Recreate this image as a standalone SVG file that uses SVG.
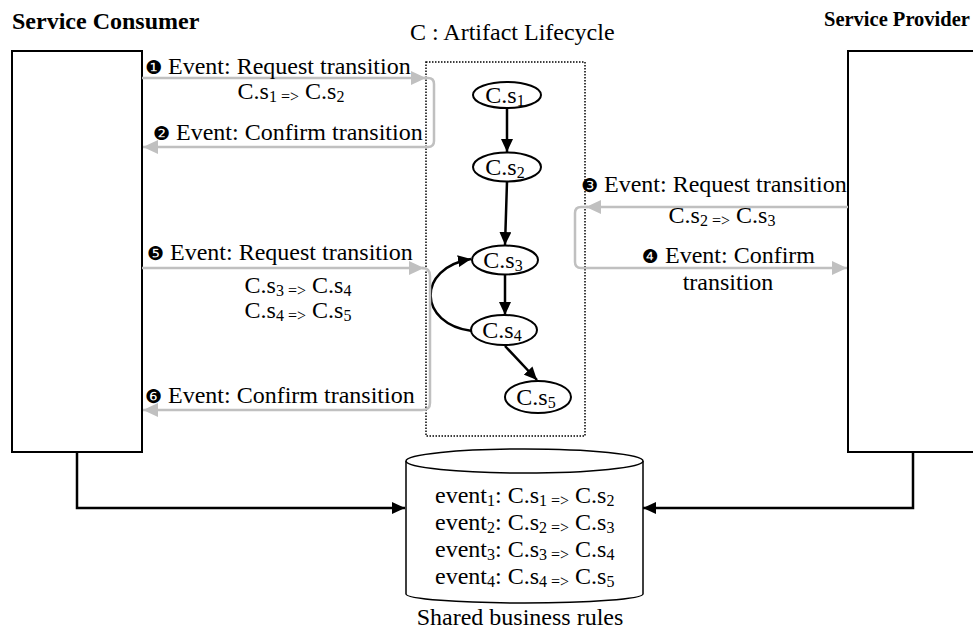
<svg xmlns="http://www.w3.org/2000/svg" width="973" height="631" viewBox="0 0 973 631">
<style>
text{font-family:"Liberation Serif","Times New Roman",serif;font-size:24px;fill:#000}
.b{font-weight:bold}
.n{font-family:"DejaVu Sans",sans-serif;font-size:19px}
.s{font-size:16px}
.box{fill:#fff;stroke:#000;stroke-width:2}
.st{fill:#fff;stroke:#000;stroke-width:2}
.blk{fill:none;stroke:#000;stroke-width:2.5}
.gry{fill:none;stroke:#c0c0c0;stroke-width:2.5}
</style>
<defs>
<marker id="ab" markerUnits="userSpaceOnUse" markerWidth="14" markerHeight="12" refX="13" refY="6" orient="auto"><path d="M0,0 L13,6 L0,12 z" fill="#000"/></marker>
<marker id="ag" markerUnits="userSpaceOnUse" markerWidth="16" markerHeight="14" refX="15" refY="7" orient="auto"><path d="M0,0 L15,7 L0,14 z" fill="#c0c0c0"/></marker>
</defs>
<rect width="973" height="631" fill="#fff"/>

<g id="consumer">
<text class="b" x="12" y="29">Service Consumer</text>
<rect class="box" x="12" y="51" width="130" height="401"/>
</g>
<g id="provider">
<text class="b" x="824" y="26" style="font-size:20.5px">Service Provider</text>
<rect class="box" x="848" y="51" width="140" height="401"/>
</g>

<g id="lifecycle">
<text x="410" y="40">C : Artifact Lifecycle</text>
<rect x="426" y="62" width="159" height="374" fill="none" stroke="#000" stroke-width="1.5" stroke-dasharray="1.5 1.5"/>
</g>
<g id="s1"><ellipse class="st" cx="507" cy="95" rx="34" ry="13"/><text x="505" y="103" text-anchor="middle">C.s<tspan class="s" dy="3">1</tspan></text></g>
<g id="s2"><ellipse class="st" cx="507" cy="167" rx="34" ry="14.5"/><text x="505" y="175" text-anchor="middle">C.s<tspan class="s" dy="3">2</tspan></text></g>
<g id="s3"><ellipse class="st" cx="505" cy="260" rx="33" ry="14.5"/><text x="503" y="268" text-anchor="middle">C.s<tspan class="s" dy="3">3</tspan></text></g>
<g id="s4"><ellipse class="st" cx="504" cy="330" rx="33" ry="15"/><text x="502" y="338" text-anchor="middle">C.s<tspan class="s" dy="3">4</tspan></text></g>
<g id="s5"><ellipse class="st" cx="538" cy="397" rx="33" ry="16"/><text x="536" y="405" text-anchor="middle">C.s<tspan class="s" dy="3">5</tspan></text></g>

<g id="rules">
<path d="M406,461 V594 A118.5,9 0 0 0 643,594 V461" fill="#fff" stroke="#000" stroke-width="1.5"/>
<ellipse cx="524.5" cy="461" rx="118.5" ry="12" fill="#fff" stroke="#000" stroke-width="1.5"/>
<text x="435" y="503">event<tspan class="s" dy="3">1</tspan><tspan dy="-3">: C.s</tspan><tspan class="s" dy="3">1 =&gt;</tspan><tspan dy="-3"> C.s</tspan><tspan class="s" dy="3">2</tspan></text>
<text x="435" y="530">event<tspan class="s" dy="3">2</tspan><tspan dy="-3">: C.s</tspan><tspan class="s" dy="3">2 =&gt;</tspan><tspan dy="-3"> C.s</tspan><tspan class="s" dy="3">3</tspan></text>
<text x="435" y="557">event<tspan class="s" dy="3">3</tspan><tspan dy="-3">: C.s</tspan><tspan class="s" dy="3">3 =&gt;</tspan><tspan dy="-3"> C.s</tspan><tspan class="s" dy="3">4</tspan></text>
<text x="435" y="584">event<tspan class="s" dy="3">4</tspan><tspan dy="-3">: C.s</tspan><tspan class="s" dy="3">4 =&gt;</tspan><tspan dy="-3"> C.s</tspan><tspan class="s" dy="3">5</tspan></text>
<text x="520" y="625" text-anchor="middle">Shared business rules</text>
</g>

<g id="connectors">
<path class="blk" d="M507,108 V152" marker-end="url(#ab)"/>
<path class="blk" d="M507,182 L505,245" marker-end="url(#ab)"/>
<path class="blk" d="M505,275 V315" marker-end="url(#ab)"/>
<path class="blk" d="M505,346 L537,380" marker-end="url(#ab)"/>
<path class="blk" d="M472,331 C418,324 416,268 471,259" marker-end="url(#ab)"/>
<path class="blk" d="M77,452 V508 H405" marker-end="url(#ab)"/>
<path class="blk" d="M913,452 V508 H643" marker-end="url(#ab)"/>

<path class="gry" d="M142,78 H426" marker-end="url(#ag)"/>
<path class="gry" d="M424,78 H428 Q434,78 434,84 V141 Q434,147 428,147 H143" marker-end="url(#ag)"/>
<path class="gry" d="M848,207 H586" marker-end="url(#ag)"/>
<path class="gry" d="M588,207 H581 Q575,207 575,213 V262 Q575,268 581,268 H847" marker-end="url(#ag)"/>
<path class="gry" d="M142,268 H424" marker-end="url(#ag)"/>
<path class="gry" d="M422,268 Q430,268 430,276 V403 Q430,410 422,410 H143" marker-end="url(#ag)"/>
</g>

<g id="labels">
<text x="145" y="74"><tspan class="n">❶</tspan> Event: Request transition</text>
<text x="291" y="99" text-anchor="middle">C.s<tspan class="s" dy="3">1 =&gt;</tspan><tspan dy="-3"> C.s</tspan><tspan class="s" dy="3">2</tspan></text>
<text x="153" y="140"><tspan class="n">❷</tspan> Event: Confirm transition</text>
<text x="581" y="192"><tspan class="n">❸</tspan> Event: Request transition</text>
<text x="722" y="223" text-anchor="middle">C.s<tspan class="s" dy="3">2 =&gt;</tspan><tspan dy="-3"> C.s</tspan><tspan class="s" dy="3">3</tspan></text>
<text x="642" y="263"><tspan class="n">❹</tspan> Event: Confirm</text>
<text x="728" y="290" text-anchor="middle">transition</text>
<text x="147" y="260"><tspan class="n">❺</tspan> Event: Request transition</text>
<text x="298" y="293" text-anchor="middle">C.s<tspan class="s" dy="3">3 =&gt;</tspan><tspan dy="-3"> C.s</tspan><tspan class="s" dy="3">4</tspan></text>
<text x="298" y="318" text-anchor="middle">C.s<tspan class="s" dy="3">4 =&gt;</tspan><tspan dy="-3"> C.s</tspan><tspan class="s" dy="3">5</tspan></text>
<text x="145" y="403"><tspan class="n">❻</tspan> Event: Confirm transition</text>
</g>
</svg>
